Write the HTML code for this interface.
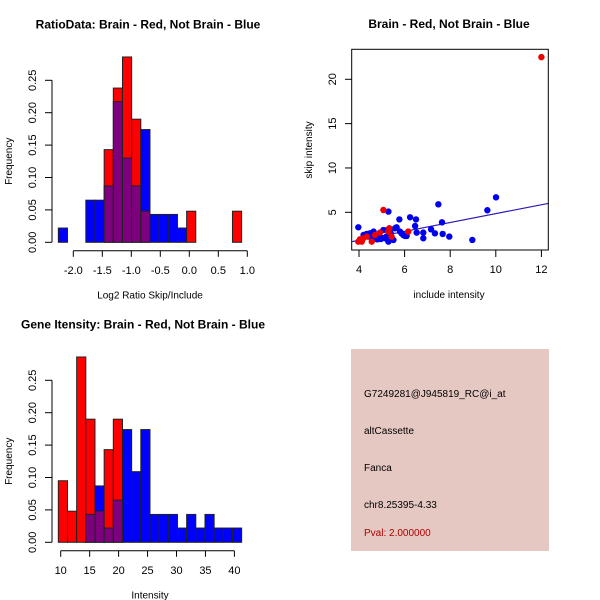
<!DOCTYPE html>
<html><head><meta charset="utf-8"><style>
html,body{margin:0;padding:0;background:#fff;width:600px;height:600px;overflow:hidden}
svg{display:block;font-family:"Liberation Sans","DejaVu Sans",sans-serif}
</style></head><body>
<svg id="c" width="600" height="600" viewBox="0 0 600 600"></svg>
<script>
// ---- data ----
const ratioStart = -2.258, ratioBinW = 0.158;
const ratioBlue = [0.022,0,0,0.065,0.065,0.087,0.217,0.130,0.087,0.174,0.043,0.043,0.043,0.022,0,0,0,0,0,0];
const ratioRed  = [0,0,0,0,0,0.143,0.238,0.286,0.190,0.048,0,0,0,0,0.048,0,0,0,0,0.048];
const ratioXTicks = [-2.0,-1.5,-1.0,-0.5,0.0,0.5,1.0];
const freqTicks = [0,0.05,0.10,0.15,0.20,0.25];
const intStart = 9.59, intBinW = 1.583;
const intBlue = [0,0,0,0.043,0.087,0.022,0.065,0.174,0.109,0.174,0.043,0.043,0.043,0.022,0.043,0.022,0.043,0.022,0.022,0.022];
const intRed  = [0.095,0.048,0.286,0.190,0.048,0.143,0.190,0,0,0,0,0,0,0,0,0,0,0,0,0];
const intXTicks = [10,15,20,25,30,35,40];
const blueX = [3.97,4.34,4.48,4.56,4.7,4.8,4.92,5.07,5.14,5.29,5.29,5.36,5.39,5.51,5.58,5.65,5.77,5.8,5.94,6.09,6.24,6.46,6.5,6.53,6.82,6.82,7.16,7.33,7.48,7.64,7.67,7.96,8.97,9.63,10.01,4.2,4.42,4.64,4.96,5.2,5.23,5.87,6.02];
const blueY = [3.31,2.56,2.63,2.26,2.07,1.95,2.26,3.0,2.07,5.08,1.69,2.82,2.63,1.88,3.2,3.31,4.2,2.82,2.44,2.33,4.44,3.46,4.2,2.71,2.71,2.07,3.08,2.63,5.9,3.87,2.56,2.26,1.88,5.23,6.69,2.44,2.26,2.82,1.99,2.26,3.0,2.63,2.33];
const redX = [3.97,4.04,4.12,4.19,4.34,4.56,4.7,4.92,5.07,5.29,5.33,5.43,6.16,12.0];
const redY = [1.69,1.95,1.69,2.07,2.26,1.69,2.44,2.71,5.26,2.82,3.2,2.26,2.82,22.5];
const scXTicks = [4,6,8,10,12];
const scYTicks = [5,10,15,20];
const fitBlue = [-0.15,0.5]; // intercept, slope
const fitRed = [-0.17,0.502];

const NS="http://www.w3.org/2000/svg", svg=document.getElementById('c');
function el(tag,attrs,parent,text){const e=document.createElementNS(NS,tag);for(const k in attrs)e.setAttribute(k,attrs[k]);if(text!==undefined)e.textContent=text;(parent||svg).appendChild(e);return e;}
const PURPLE="#7f007f";

function fmtTick(t){return Number.isInteger(t)&&Math.abs(t)>=10?String(t):t.toFixed(1);}

function histPanel(name, start, bw, blue, red, xTicks, xFn, yBase, title, titleX, xlab){
  const g=el('g',{});
  
  
  const yFn=v=>yBase-v*648;
  for(let i=0;i<blue.length;i++){
    const x0=xFn(start+i*bw), x1=xFn(start+(i+1)*bw);
    const b=blue[i], r=red[i];
    const hi=Math.max(b,r), lo=Math.min(b,r);
    if(hi>0){
      const bar=el('rect',{x:x0,y:yFn(hi),width:x1-x0,height:yFn(0)-yFn(hi),fill:b>r?'#0000ff':'#ff0000',stroke:'#222','stroke-width':1},g);
      
      
    }
    if(lo>0){
      const ov=el('rect',{x:x0,y:yFn(lo),width:x1-x0,height:yFn(0)-yFn(lo),fill:PURPLE,stroke:'#222','stroke-width':1},g);
      
      
    }
  }
  const ya=el('g',{},g);
  
  
  el('line',{x1:52,x2:52,y1:yFn(0),y2:yFn(0.25),stroke:'#000'},ya);
  freqTicks.forEach(t=>{
    const y=yFn(t);
    el('line',{x1:45,x2:52,y1:y,y2:y,stroke:'#000'},ya);
    el('text',{x:0,y:0,transform:`translate(36,${y}) rotate(-90)`,'text-anchor':'middle','font-size':11},ya,t.toFixed(2));
  });
  const yt=el('text',{transform:`translate(12,${yFn(0.125)}) rotate(-90)`,'text-anchor':'middle','font-size':10},g,'Frequency');
  
  
  const xa=el('g',{},g);
  
  
  const ay=yBase+8.5;
  el('line',{x1:xFn(xTicks[0]),x2:xFn(xTicks[xTicks.length-1]),y1:ay,y2:ay,stroke:'#000'},xa);
  xTicks.forEach(t=>{
    const x=xFn(t);
    el('line',{x1:x,x2:x,y1:ay,y2:ay+6,stroke:'#000'},xa);
    el('text',{x:x,y:ay+23,'text-anchor':'middle','font-size':11},xa,fmtTick(t));
  });
  const xt=el('text',{x:150,y:yBase+56,'text-anchor':'middle','font-size':10},g,xlab);
  
  
  const tt=el('text',{x:titleX,y:yBase-214,'text-anchor':'middle','font-size':12,'font-weight':'bold'},g,title);
  
  
}
histPanel('ratio-histogram',ratioStart,ratioBinW,ratioBlue,ratioRed,ratioXTicks,v=>73.3+(v+2)*58,242.3,'RatioData: Brain - Red, Not Brain - Blue',148,'Log2 Ratio Skip/Include');
histPanel('intensity-histogram',intStart,intBinW,intBlue,intRed,intXTicks,v=>60.7+(v-10)*5.79,542.3,'Gene Itensity: Brain - Red, Not Brain - Blue',143,'Intensity');

const sx=v=>359+(v-4)*22.8, sy=v=>212.3-(v-5)*8.867;
const sg=el('g',{});


const cp=el('clipPath',{id:'scClip'},sg);
el('rect',{x:351.7,y:49.3,width:196.6,height:200.7},cp);
const lines=el('g',{'clip-path':'url(#scClip)'},sg);
[[fitRed,'#a00060','fit-line-red'],[fitBlue,'#2020c0','fit-line-blue']].forEach(([f,c,n])=>{
  const ln=el('line',{x1:sx(3),y1:sy(f[0]+f[1]*3),x2:sx(13),y2:sy(f[0]+f[1]*13),stroke:c,'stroke-width':1},lines);
  
  
});
blueX.forEach((x,i)=>{
  const p=el('circle',{cx:sx(x),cy:sy(blueY[i]),r:3.2,fill:'#0000ee'},sg);
  
  
});
redX.forEach((x,i)=>{
  const p=el('circle',{cx:sx(x),cy:sy(redY[i]),r:3.2,fill:'#ee0000'},sg);
  
  
});
el('rect',{x:351.7,y:49.3,width:196.6,height:200.7,fill:'none',stroke:'#000'},sg);
scXTicks.forEach(t=>{const x=sx(t);el('line',{x1:x,x2:x,y1:250,y2:257,stroke:'#000'},sg);el('text',{x:x,y:273,'text-anchor':'middle','font-size':11},sg,String(t));});
scYTicks.forEach(t=>{const y=sy(t);el('line',{x1:345,x2:351.7,y1:y,y2:y,stroke:'#000'},sg);el('text',{transform:`translate(336,${y}) rotate(-90)`,'text-anchor':'middle','font-size':11},sg,String(t));});
const sxt=el('text',{x:449,y:298,'text-anchor':'middle','font-size':10},sg,'include intensity');


const syt=el('text',{transform:'translate(312,150) rotate(-90)','text-anchor':'middle','font-size':10},sg,'skip intensity');


const stt=el('text',{x:449,y:28,'text-anchor':'middle','font-size':12,'font-weight':'bold'},sg,'Brain - Red, Not Brain - Blue');



const ig=el('g',{});


el('rect',{x:351,y:349,width:198,height:202,fill:'#e6c8c2'},ig);
[['G7249281@J945819_RC@i_at',397,'#000','probe-id'],['altCassette',434,'#000','event-type'],['Fanca',471,'#000','gene-name'],['chr8.25395-4.33',508,'#000','location'],['Pval: 2.000000',536,'#b00000','p-value']].forEach(([t,y,c,n])=>{
  const tx=el('text',{x:364,y:y,'font-size':10,fill:c},ig,t);
  
  
});
</script>
</body></html>
